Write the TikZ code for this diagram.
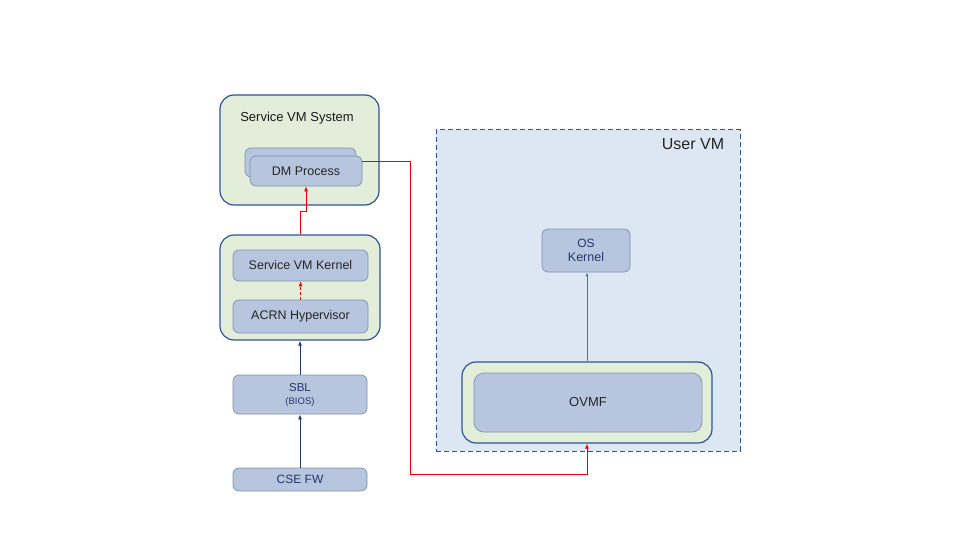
\documentclass[tikz,border=0pt]{standalone}
\usepackage{fontspec}
\setmainfont{Liberation Sans}
\usetikzlibrary{arrows.meta}

\begin{document}
\begin{tikzpicture}[x=1pt, y=-1pt]
  % Define colors
  \definecolor{boxgreen}{RGB}{226,238,217}
  \definecolor{boxblue}{RGB}{183,198,222}
  \definecolor{vmblue}{RGB}{221,231,243}
  \definecolor{outerline}{RGB}{47,84,150}
  \definecolor{innerline}{RGB}{126,146,174}
  \definecolor{navytext}{RGB}{31,56,110}
  \definecolor{arrowblue}{RGB}{68,114,196}
  \definecolor{linkred}{RGB}{240,0,0}

  % Styles
  \tikzset{
    outerbox/.style={rectangle, draw=outerline, line width=1.2pt, fill=boxgreen, rounded corners=14pt, inner sep=0pt},
    innerbox/.style={rectangle, draw=innerline, line width=0.7pt, fill=boxblue, rounded corners=6pt, inner sep=0pt, font=\fontsize{12.5}{14}\selectfont, text=black!85},
    navybox/.style={innerbox, text=navytext, align=center},
    redlink/.style={draw=linkred, line width=0.9pt, -{Latex[length=5pt,width=4pt]}},
    bluelink/.style={draw=navytext, line width=1pt, -{Latex[length=5pt,width=4pt]}}
  }

  \useasboundingbox (0,0) rectangle (960,540);

  % User VM area
  \node[rectangle, draw=outerline, line width=1pt, dash pattern=on 5pt off 3pt, fill=vmblue, minimum width=304pt, minimum height=321pt] (uservm) at (588,290.5) {};
  \node[font=\fontsize{16}{18}\selectfont, text=black!85] (uservmtitle) at (693,144) {User VM};

  % Service VM system
  \node[outerbox, minimum width=159pt, minimum height=110pt] (svcsys) at (299.5,150) {};
  \node[font=\fontsize{13}{15}\selectfont, text=black!90] (svcsystitle) at (297,118) {Service VM System};
  \node[innerbox, minimum width=111pt, minimum height=29pt] (dmback) at (300.5,162.5) {};
  \node[innerbox, minimum width=112pt, minimum height=30pt] (dm) at (306,171) {DM Process};

  % Hypervisor stack
  \node[outerbox, minimum width=160pt, minimum height=105pt] (hostbox) at (300,287.5) {};
  \node[innerbox, minimum width=135pt, minimum height=31pt] (kernel) at (300.5,265.5) {Service VM Kernel};
  \node[innerbox, minimum width=135pt, minimum height=33pt] (acrn) at (300.5,316.5) {ACRN Hypervisor};

  % Boot firmware
  \node[navybox, minimum width=134pt, minimum height=39pt] (sbl) at (300,394.5) {\fontsize{11.5}{13}\selectfont SBL\\[-1pt]\fontsize{9.5}{11}\selectfont (BIOS)};
  \node[navybox, minimum width=134pt, minimum height=23pt] (csefw) at (300,479.5) {\fontsize{12}{14}\selectfont CSE FW};

  % Guest side
  \node[navybox, minimum width=88pt, minimum height=43pt] (oskernel) at (586,250.5) {\fontsize{12}{13}\selectfont OS\\Kernel};
  \node[outerbox, minimum width=250pt, minimum height=81pt] (ovmfbox) at (587,402.5) {};
  \node[innerbox, minimum width=228pt, minimum height=59pt, rounded corners=10pt, font=\fontsize{13}{15}\selectfont] (ovmf) at (588,402.5) {OVMF};

  % Boot arrows
  \draw[bluelink] (csefw.north) -- (sbl.south);
  \draw[bluelink] (sbl.north) -- (hostbox.south);
  \draw[redlink, dashed, dash pattern=on 3pt off 2pt] (acrn.north) -- (kernel.south);
  \draw[redlink] (hostbox.north) -- ++(0,-23) -| (dm.south);
  \draw[draw=arrowblue, line width=0.8pt, -{Latex[length=4pt,width=3pt]}] (ovmfbox.north) -- (ovmfbox.north |- oskernel.south);

  % DM to OVMF link
  \coordinate (redturn) at (410,474);
  \draw[redlink] (dm.10) -| (redturn) -| (ovmfbox.south);
\end{tikzpicture}
\end{document}
